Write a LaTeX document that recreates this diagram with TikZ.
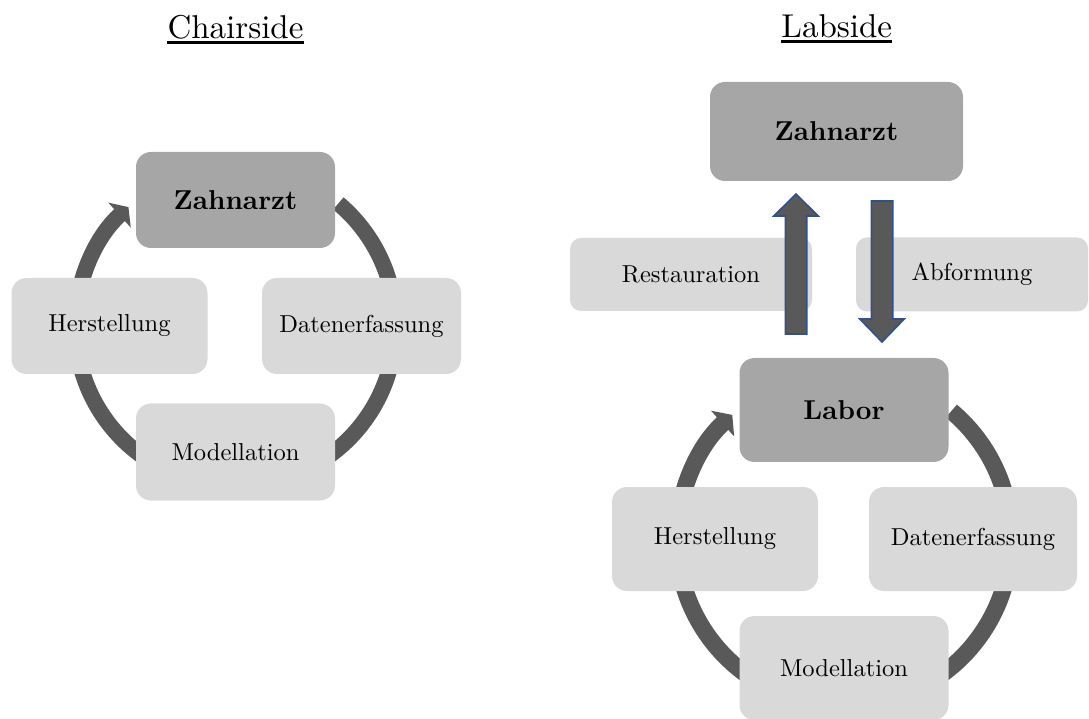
\documentclass[tikz,border=0pt]{standalone}
\usepackage{fontspec}
\setmainfont{lmroman10-regular.otf}[BoldFont=lmroman10-bold.otf]
\usetikzlibrary{arrows.meta}
\definecolor{boxdark}{HTML}{A6A6A6}
\definecolor{boxlight}{HTML}{D9D9D9}
\definecolor{ringgray}{HTML}{595959}
\definecolor{outlineblue}{HTML}{2F528F}
\pgfdeclarelayer{bg}
\pgfsetlayers{bg,main}
\begin{document}
\begin{tikzpicture}[x=1pt,y=1pt,
  stage/.style={fill=boxlight, rounded corners=15pt, inner sep=0pt, text=black,
    font=\fontsize{24.5}{29}\selectfont},
  hub/.style={stage, fill=boxdark, font=\fontsize{27.3}{32}\selectfont\bfseries},
  smallbox/.style={stage, rounded corners=11pt},
  heading/.style={inner sep=0pt, anchor=base, font=\fontsize{33}{40}\selectfont},
  ringA/.style={draw=ringgray, line width=16pt},
  ringB/.style={draw=ringgray, line width=17pt},
  blockarrow/.style={fill=ringgray, draw=outlineblue, line width=1.6pt, line join=miter}
]
\useasboundingbox (0,0) rectangle (1089,718);
\clip (0,0) rectangle (1089,718);

% headings
\node[heading] (t1) at (235.5,679.7) {Chairside};
\node[heading] (t2) at (836.7,680.3) {Labside};
\draw[line width=2.5pt] ([yshift=-4pt]t1.base west) -- ([yshift=-4pt]t1.base east);
\draw[line width=2.5pt] ([yshift=-4pt]t2.base west) -- ([yshift=-4pt]t2.base east);

% chairside cycle
\node[hub,   minimum width=199pt, minimum height=96pt] (z1) at (235.5,518) {Zahnarzt};
\node[stage, minimum width=196pt, minimum height=96pt] (h1) at (109.5,392) {Herstellung};
\node[stage, minimum width=199pt, minimum height=96pt] (d1) at (361.5,392) {Datenerfassung};
\node[stage, minimum width=199pt, minimum height=97pt] (m1) at (235.5,266) {Modellation};
\coordinate (c1) at (z1 |- h1);
\begin{pgfonlayer}{bg}
  \draw[ringA] ([shift={(50:160pt)}]c1) arc[start angle=50, end angle=5, radius=160pt];
  \draw[ringA] ([shift={(-5:160pt)}]c1) arc[start angle=-5, end angle=-60, radius=160pt];
  \draw[ringA] ([shift={(-120:160pt)}]c1) arc[start angle=-120, end angle=-175, radius=160pt];
  \draw[ringA, -{Triangle[length=12pt, width=33pt]}]
    ([shift={(175:160pt)}]c1) arc[start angle=175, end angle=132, radius=160pt];
\end{pgfonlayer}

% labside: dentist exchange
\node[hub,      minimum width=253pt, minimum height=99pt] (z2) at (836.5,586.5) {Zahnarzt};
\node[smallbox, minimum width=242pt, minimum height=73pt] (r2) at (691,443.5) {Restauration};
\node[smallbox, minimum width=232pt, minimum height=74pt] (a2) at (972,443.5) {Abformung};

% labside cycle
\node[hub,   minimum width=209pt, minimum height=104pt] (l2) at (844,308) {Labor};
\node[stage, minimum width=206pt, minimum height=104pt] (h2) at (715,179) {Herstellung};
\node[stage, minimum width=208pt, minimum height=104pt] (d2) at (973,179) {Datenerfassung};
\node[stage, minimum width=209pt, minimum height=104pt] (m2) at (844,50) {Modellation};
\coordinate (c2) at (l2 |- h2);
\begin{pgfonlayer}{bg}
  \draw[ringB] ([shift={(50:167pt)}]c2) arc[start angle=50, end angle=5, radius=167pt];
  \draw[ringB] ([shift={(-5:167pt)}]c2) arc[start angle=-5, end angle=-60, radius=167pt];
  \draw[ringB] ([shift={(-120:167pt)}]c2) arc[start angle=-120, end angle=-175, radius=167pt];
  \draw[ringB, -{Triangle[length=13pt, width=34pt]}]
    ([shift={(175:167pt)}]c2) arc[start angle=175, end angle=132, radius=167pt];
\end{pgfonlayer}

% block arrows between Labor and Zahnarzt
\coordinate (upS) at (796,384);
\coordinate (upT) at (796,524);
\coordinate (dnS) at (882,517);
\coordinate (dnT) at (882,376);
\draw[blockarrow] ([xshift=-10.7pt]upS) -- ([xshift=-10.7pt,yshift=-22pt]upT)
  -- ([xshift=-22.2pt,yshift=-22pt]upT) -- (upT)
  -- ([xshift=22.2pt,yshift=-22pt]upT) -- ([xshift=10.7pt,yshift=-22pt]upT)
  -- ([xshift=10.7pt]upS) -- cycle;
\draw[blockarrow] ([xshift=-10.7pt]dnS) -- ([xshift=-10.7pt,yshift=23pt]dnT)
  -- ([xshift=-22.2pt,yshift=23pt]dnT) -- (dnT)
  -- ([xshift=22.2pt,yshift=23pt]dnT) -- ([xshift=10.7pt,yshift=23pt]dnT)
  -- ([xshift=10.7pt]dnS) -- cycle;
\end{tikzpicture}
\end{document}
